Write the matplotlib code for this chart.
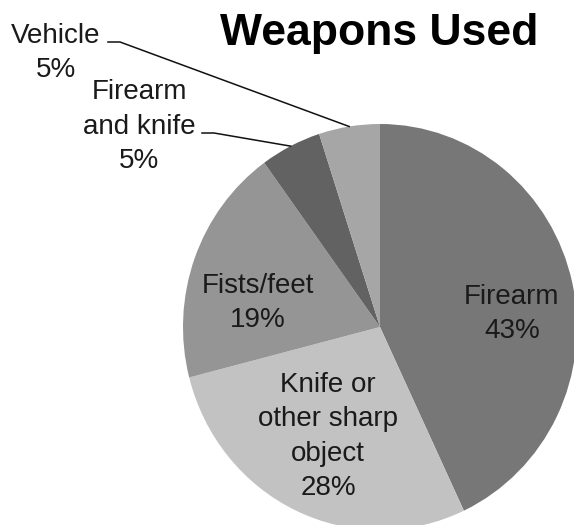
import numpy as np
import matplotlib
matplotlib.use("Agg")
import matplotlib.pyplot as plt
from matplotlib.lines import Line2D

# chart data
categories = ["Firearm", "Knife or\nother sharp\nobject", "Fists/feet",
              "Firearm\nand knife", "Vehicle"]
shares = [43, 28, 19, 5, 5]
colors = ["#777777", "#c2c2c2", "#959595", "#626262", "#a6a6a6"]

W, H = 574, 525


def px(x, y):
    """pixel position (top-left origin) -> figure fraction"""
    return x / W, 1 - y / H


plt.rcParams["font.family"] = ["Liberation Sans", "DejaVu Sans"]

fig = plt.figure(figsize=(W / 100, H / 100), dpi=100)
fig.patch.set_facecolor("white")

# pie is slightly squashed horizontally in the original
cx, cy, rx, ry = 380, 327, 197, 203
ax = fig.add_axes([(cx - rx) / W, 1 - (cy + ry) / H, 2 * rx / W, 2 * ry / H])
wedges, _ = ax.pie(shares, colors=colors, startangle=90, counterclock=False,
                   wedgeprops=dict(linewidth=0))
ax.set_aspect("auto")
ax.set_xlim(-1, 1)
ax.set_ylim(-1, 1)
ax.axis("off")

fig.text(*px(379, 45), "Weapons Used", ha="center", va="baseline",
         fontsize=32, fontweight="bold", color="black")

# label anchor (last-line baseline, centre x) in pixels
label_pos = {
    "Firearm": (512, 338),
    "Knife or\nother sharp\nobject": (328, 495),
    "Fists/feet": (258, 327),
    "Firearm\nand knife": (139, 168),
    "Vehicle": (56, 77),
}
for name, share in zip(categories, shares):
    x, y = label_pos[name]
    fig.text(*px(x, y), f"{name}\n{share}%", ha="center", va="baseline",
             fontsize=20, color="#1a1a1a", linespacing=1.42)

# leader lines for the two small outer labels: label end -> kink -> wedge edge
leaders = {3: [(202, 133), (214, 133)], 4: [(108, 42), (120, 42)]}
to_fig = ax.transData + fig.transFigure.inverted()
for i, pts in leaders.items():
    w = wedges[i]
    mid = np.deg2rad((w.theta1 + w.theta2) / 2)
    ex, ey = to_fig.transform((np.cos(mid), np.sin(mid)))
    xs = [px(*p)[0] for p in pts] + [ex]
    ys = [px(*p)[1] for p in pts] + [ey]
    fig.add_artist(Line2D(xs, ys, color="#111111", linewidth=1.1,
                          transform=fig.transFigure))

fig.savefig("out.png", dpi=100, facecolor="white")
